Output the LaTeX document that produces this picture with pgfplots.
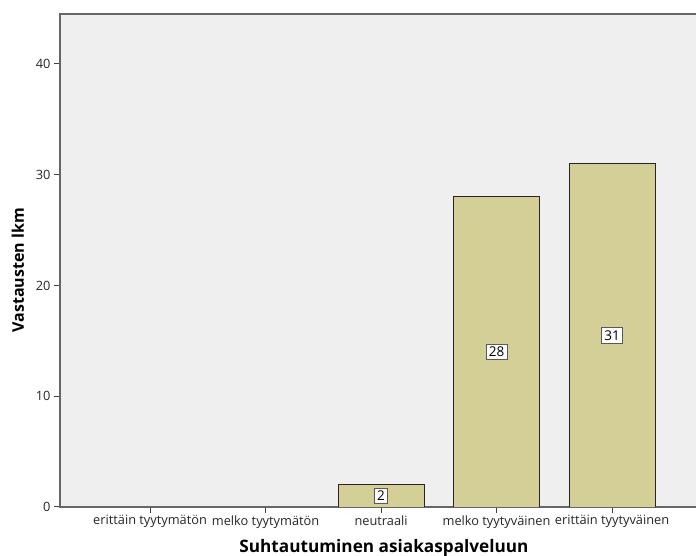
\documentclass[border=0pt]{standalone}
\usepackage{pgfplots}
\pgfplotsset{compat=1.18}
\usepackage{fontspec}
\setmainfont{Open Sans}
\definecolor{barcol}{RGB}{211,207,150}
\definecolor{bgcol}{RGB}{239,239,239}
\begin{document}
\begin{tikzpicture}
\begin{axis}[
  name=ax, at={(0,0)}, anchor=south west,
  scale only axis, width=644pt, height=493pt,
  xmin=-0.78, xmax=4.796, ymin=0, ymax=44.5,
  enlargelimits=false,
  axis background/.style={fill=bgcol},
  axis line style={draw=black!60, line width=1.4pt},
  xtick={0,1,2,3,4},
  xticklabels={erittäin tyytymätön, melko tyytymätön, neutraali, melko tyytyväinen, erittäin tyytyväinen},
  ytick={0,10,20,30,40},
  tick pos=left, tick align=outside, major tick length=6pt,
  tick style={draw=black!75, line width=1pt},
  /pgf/number format/assume math mode=true,
  ticklabel style={font=\fontsize{12.8}{15}\selectfont, text=black!85},
  xticklabel style={yshift=1pt},
  xlabel={Suhtautuminen asiakaspalveluun},
  ylabel={Vastausten lkm},
  xlabel style={font=\bfseries\fontsize{17.2}{19}\selectfont, at={(rel axis cs:0.503,0)}, anchor=center, yshift=-41pt},
  ylabel style={font=\bfseries\fontsize{16}{18}\selectfont, at={(rel axis cs:0,0.48)}, anchor=center, yshift=42pt},
]
\addplot[ybar, bar width=86pt, fill=barcol, draw=black!85, line width=0.9pt]
  coordinates {(2,2) (3,28) (4,31)};
\addplot[draw=none, mark=none, nodes near coords, point meta=explicit symbolic,
  nodes near coords align=center,
  every node near coord/.style={anchor=center, fill=white, draw=black!65, line width=0.9pt, inner sep=2.8pt, font=\fontsize{13.5}{14}\selectfont}]
  coordinates {(2,1) [2] (3,14) [28] (4,15.5) [31]};
\end{axis}
\pgfresetboundingbox
\path[use as bounding box] (-60pt,-49pt) rectangle (636pt,507pt);
\end{tikzpicture}
\end{document}
